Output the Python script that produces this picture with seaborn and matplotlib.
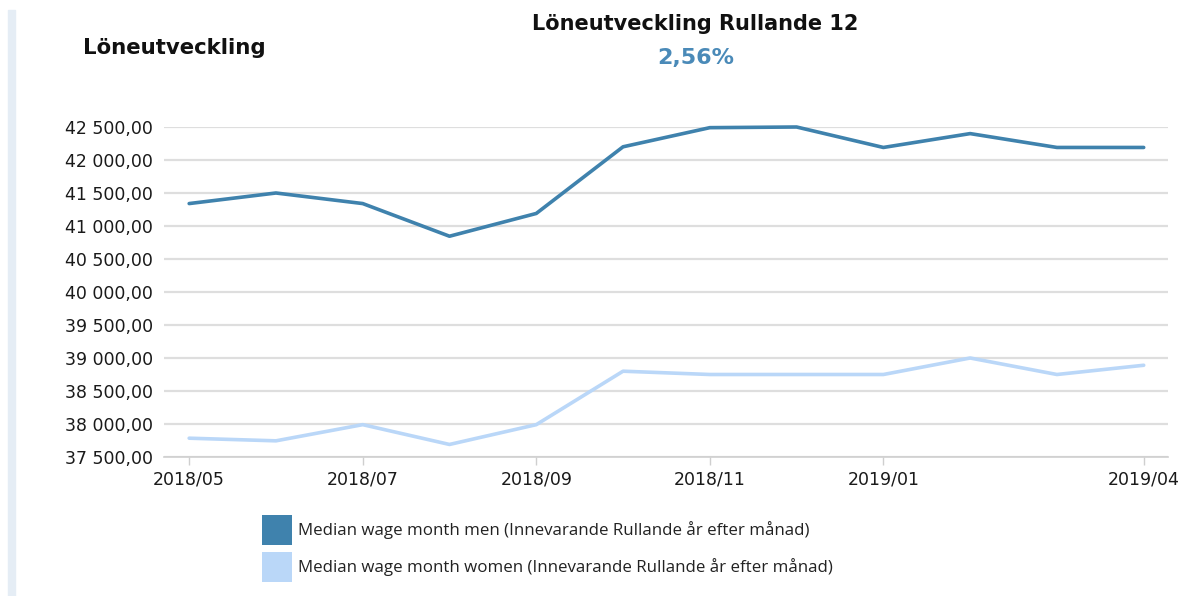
import matplotlib
matplotlib.use("Agg")
import matplotlib.pyplot as plt
import matplotlib.ticker as mticker
from matplotlib.patches import Patch, Rectangle
import seaborn as sns
import pandas as pd

months = ["2018/05", "2018/06", "2018/07", "2018/08", "2018/09", "2018/10",
          "2018/11", "2018/12", "2019/01", "2019/02", "2019/03", "2019/04"]
men = [41340, 41500, 41340, 40845, 41190, 42200, 42490, 42500, 42190, 42400, 42190, 42190]
women = [37785, 37745, 37990, 37690, 37990, 38800, 38750, 38750, 38750, 39000, 38750, 38890]
series_names = ["Median wage month men (Innevarande Rullande år efter månad)",
                "Median wage month women (Innevarande Rullande år efter månad)"]
xtick_labels = ["2018/05", "2018/07", "2018/09", "2018/11", "2019/01", "2019/04"]
ytick_values = [37500, 38000, 38500, 39000, 39500, 40000, 40500, 41000, 41500, 42000, 42500]
left_title = "Löneutveckling"
main_title = "Löneutveckling Rullande 12"
kpi_text = "2,56%"

colors = ["#3f82ad", "#bad7f8"]

df = pd.DataFrame({
    "idx": list(range(len(months))) * 2,
    "value": men + women,
    "series": [series_names[0]] * len(months) + [series_names[1]] * len(months),
})

sns.set_theme(style="white")
plt.rcParams["font.family"] = ["DejaVu Sans"]

fig = plt.figure(figsize=(11.86, 5.96), dpi=100)
ax = fig.add_axes([164 / 1186, 1 - 457 / 596, (1168 - 164) / 1186, (457 - 127) / 596])

sns.lineplot(data=df, x="idx", y="value", hue="series", palette=colors,
             linewidth=2.6, ax=ax, legend=False)
for ln in ax.lines:
    ln.set_clip_on(False)
    ln.set_zorder(3)

ax.set_xlim(-0.29, 11.28)
ax.set_ylim(37500, 42500)
ax.set_yticks(ytick_values)
ax.yaxis.set_major_formatter(mticker.FuncFormatter(
    lambda v, p: f"{v:,.2f}".replace(",", " ").replace(".", ",")))
ax.set_xticks([months.index(m) for m in xtick_labels])
ax.set_xticklabels(xtick_labels)
ax.set_xlabel("")
ax.set_ylabel("")
ax.grid(axis="y", color="#dedede", linewidth=1.6)
ax.set_axisbelow(True)
for s in ["top", "right", "left"]:
    ax.spines[s].set_visible(False)
ax.spines["bottom"].set_color("#cfcfcf")
ax.spines["bottom"].set_linewidth(1.2)
ax.tick_params(axis="y", length=0, pad=8, labelsize=12.5, labelcolor="#1a1a1a")
ax.tick_params(axis="x", bottom=True, length=6, width=1, color="#cfcfcf",
               pad=4, labelsize=12.5, labelcolor="#1a1a1a")

fig.text(83 / 1186, 1 - 48 / 596, left_title, fontsize=15.3, fontweight="bold",
         color="#111111", ha="left", va="center")
fig.text(695 / 1186, 1 - 24 / 596, main_title, fontsize=15, fontweight="bold",
         color="#111111", ha="center", va="center")
fig.text(696 / 1186, 1 - 58 / 596, kpi_text, fontsize=16, fontweight="bold",
         color="#4a8ab8", ha="center", va="center")

fig.patches.append(Rectangle((8 / 1186, 0), 7 / 1186, 1 - 10 / 596,
                             transform=fig.transFigure, color="#e5edf5", zorder=0))

leg_fs = 12.2
handles = [Patch(facecolor=c, edgecolor="none") for c in colors]
fig.legend(handles, series_names, loc="upper left",
           bbox_to_anchor=(262 / 1186, 1 - 515 / 596), frameon=False,
           prop={"family": "Open Sans", "size": leg_fs}, handlelength=1.77,
           handleheight=2.32, labelspacing=0.45, handletextpad=0.36,
           borderaxespad=0, borderpad=0, labelcolor="#222222")

fig.savefig("out.png", dpi=100, facecolor="white")
